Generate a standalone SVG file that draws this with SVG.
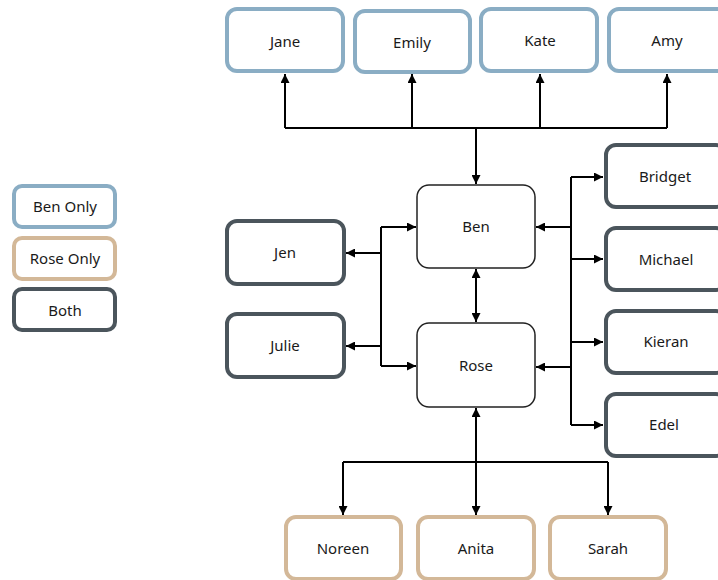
<svg xmlns="http://www.w3.org/2000/svg" width="718" height="580" viewBox="0 0 718 580">
<style>
text{font-family:"Noto Sans","Liberation Sans",sans-serif;font-size:15px;fill:#1a1a1a;text-anchor:middle}
.b{fill:#fff;stroke:#8AADC4;stroke-width:4}
.r{fill:#fff;stroke:#D3B898;stroke-width:4}
.d{fill:#fff;stroke:#4B555C;stroke-width:4}
.m{fill:#fff;stroke:#222;stroke-width:1.5}
.c{fill:none;stroke:#000;stroke-width:2}
</style>
<defs>
<marker id="ah" viewBox="0 0 10 10" refX="10" refY="5" markerWidth="9" markerHeight="9" markerUnits="userSpaceOnUse" orient="auto-start-reverse">
<path d="M0,0 L10,5 L0,10 z" fill="#000"/>
</marker>
</defs>
<g id="connectors">
<path class="c" d="M285,128 H667"/>
<path class="c" d="M285,128 V74" marker-end="url(#ah)"/>
<path class="c" d="M412,128 V74" marker-end="url(#ah)"/>
<path class="c" d="M540,128 V74" marker-end="url(#ah)"/>
<path class="c" d="M667,128 V74" marker-end="url(#ah)"/>
<path class="c" d="M476,128 V184" marker-end="url(#ah)"/>
<path class="c" d="M476,269 V322" marker-start="url(#ah)" marker-end="url(#ah)"/>
<path class="c" d="M381,227 V366"/>
<path class="c" d="M381,227 H416" marker-end="url(#ah)"/>
<path class="c" d="M381,366 H416" marker-end="url(#ah)"/>
<path class="c" d="M381,253 H346" marker-end="url(#ah)"/>
<path class="c" d="M381,346 H346" marker-end="url(#ah)"/>
<path class="c" d="M571,177 V425"/>
<path class="c" d="M571,227 H536" marker-end="url(#ah)"/>
<path class="c" d="M571,367 H536" marker-end="url(#ah)"/>
<path class="c" d="M571,177 H603" marker-end="url(#ah)"/>
<path class="c" d="M571,259 H603" marker-end="url(#ah)"/>
<path class="c" d="M571,342 H603" marker-end="url(#ah)"/>
<path class="c" d="M571,425 H603" marker-end="url(#ah)"/>
<path class="c" d="M476,408 V515" marker-start="url(#ah)" marker-end="url(#ah)"/>
<path class="c" d="M343,462 H608"/>
<path class="c" d="M343,462 V515" marker-end="url(#ah)"/>
<path class="c" d="M608,462 V515" marker-end="url(#ah)"/>
</g>
<g id="legend-ben"><rect class="b" x="14" y="186" width="101" height="41" rx="8"/><text x="65" y="212">Ben Only</text></g>
<g id="legend-rose"><rect class="r" x="14" y="238" width="101" height="41" rx="8"/><text x="65" y="264">Rose Only</text></g>
<g id="legend-both"><rect class="d" x="14" y="289" width="101" height="41" rx="8"/><text x="65" y="316">Both</text></g>
<g id="jane"><rect class="b" x="227" y="9" width="116" height="62" rx="10"/><text x="285" y="47">Jane</text></g>
<g id="emily"><rect class="b" x="355" y="11" width="115" height="61" rx="10"/><text x="412" y="48">Emily</text></g>
<g id="kate"><rect class="b" x="481" y="9" width="116" height="62" rx="10"/><text x="540" y="46">Kate</text></g>
<g id="amy"><rect class="b" x="609" y="9" width="118" height="62" rx="10"/><text x="667" y="46">Amy</text></g>
<g id="ben"><rect class="m" x="417" y="185" width="118" height="83" rx="12"/><text x="476" y="232">Ben</text></g>
<g id="rose"><rect class="m" x="417" y="323" width="118" height="84" rx="12"/><text x="476" y="371">Rose</text></g>
<g id="jen"><rect class="d" x="227" y="221" width="117" height="63" rx="10"/><text x="285" y="258">Jen</text></g>
<g id="julie"><rect class="d" x="227" y="314" width="117" height="63" rx="10"/><text x="285" y="351">Julie</text></g>
<g id="bridget"><rect class="d" x="606" y="145" width="120" height="62" rx="10"/><text x="665" y="182">Bridget</text></g>
<g id="michael"><rect class="d" x="606" y="228" width="120" height="62" rx="10"/><text x="666" y="265">Michael</text></g>
<g id="kieran"><rect class="d" x="606" y="311" width="120" height="62" rx="10"/><text x="666" y="347">Kieran</text></g>
<g id="edel"><rect class="d" x="606" y="394" width="120" height="62" rx="10"/><text x="664" y="430">Edel</text></g>
<g id="noreen"><rect class="r" x="286" y="517" width="115" height="62" rx="10"/><text x="343" y="554">Noreen</text></g>
<g id="anita"><rect class="r" x="418" y="517" width="116" height="62" rx="10"/><text x="476" y="554">Anita</text></g>
<g id="sarah"><rect class="r" x="550" y="517" width="116" height="62" rx="10"/><text x="608" y="554">Sarah</text></g>
</svg>
